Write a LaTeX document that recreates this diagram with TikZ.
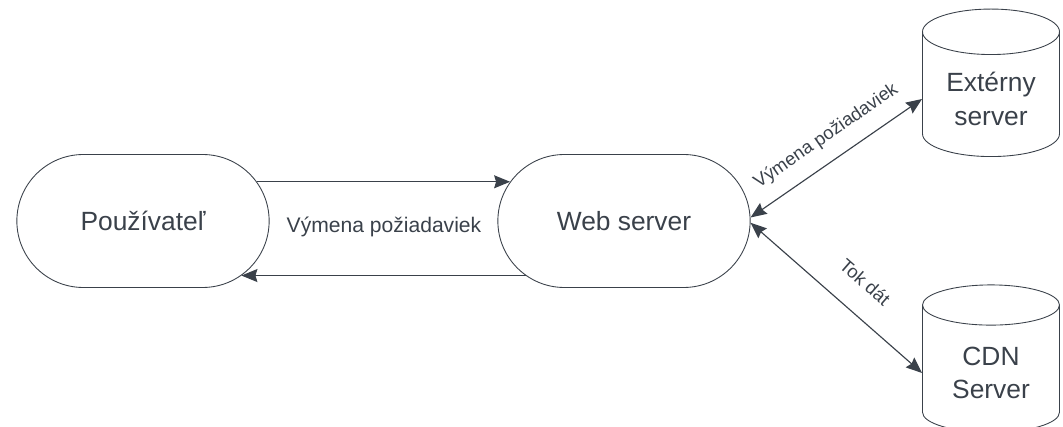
\documentclass[tikz,border=0pt]{standalone}
\usepackage{fontspec}
\setmainfont{Liberation Sans}
\usetikzlibrary{arrows.meta, shapes.misc, shapes.geometric}
\definecolor{inkgray}{RGB}{58,65,74}

\begin{document}
\begin{tikzpicture}[
  >={Stealth[length=3.2mm,width=2.6mm,inset=0.4mm]},
  every node/.style={text=inkgray},
  actor/.style={draw=inkgray, line width=0.5pt, rounded rectangle, minimum width=5.28cm, minimum height=2.66cm, font=\fontsize{15}{18}\selectfont},
  store/.style={draw=inkgray, line width=0.5pt, cylinder, shape border rotate=90, aspect=0.45, minimum width=2.74cm, minimum height=2.95cm, align=center, font=\fontsize{15}{19}\selectfont},
  flow/.style={draw=inkgray, line width=0.65pt},
  lbl/.style={font=\fontsize{12}{14}\selectfont},
  slbl/.style={font=\fontsize{10.5}{13}\selectfont, sloped},
]
\useasboundingbox (0,0) rectangle (21.26,8.54);
%\draw[step=1cm,gray,very thin] (0,0) grid (21,8);

% user and web server
\node[actor] (user) at (2.86,4.12) {Používateľ};
\node[actor] (web) at (12.48,4.12) {Web server};
\node[lbl] (req) at (7.68,4.0) {Výmena požiadaviek};

% servers on the right
\node[store] (ext) at (19.82,6.56) {Extérny\\server};
\node[store] (cdn) at (19.82,1.08) {CDN\\Server};

% requests between user and web server
\draw[flow,->] (user.19) -- (web.161);
\draw[flow,->] (web.209) -- (user.-29);

% links to the servers
\draw[flow,<->] ([yshift=2pt]web.east) -- node[slbl, above=5pt, pos=0.52] {Výmena požiadaviek} (ext.west);
\draw[flow,<->] ([yshift=-1pt]web.east) -- node[slbl, above=10pt, pos=0.55] {Tok dát} (cdn.west);
\end{tikzpicture}
\end{document}
